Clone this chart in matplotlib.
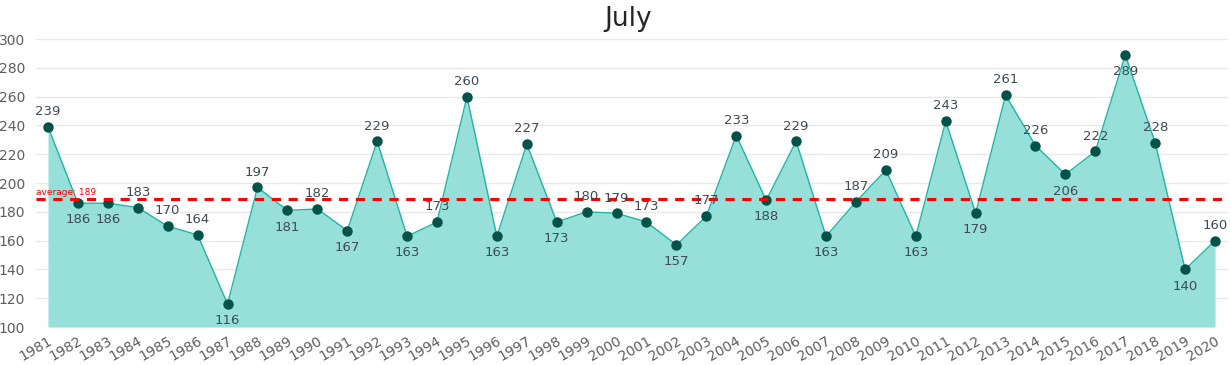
import matplotlib.pyplot as plt

years = list(range(1981, 2021))
values = [239, 186, 186, 183, 170, 164, 116, 197, 181, 182,
          167, 229, 163, 173, 260, 163, 227, 173, 180, 179,
          173, 157, 177, 233, 188, 229, 163, 187, 209, 163,
          243, 179, 261, 226, 206, 222, 289, 228, 140, 160]
# where each data label sits: 'a' above the point, 'b' below
label_side = list("abbaaababa" + "babaababaa" + "abaababaab" + "abaababab" + "a")
average = 189
y_ticks = list(range(100, 301, 20))

fig = plt.figure(figsize=(12.3, 3.65), dpi=100)
ax = fig.add_axes([0.0293, 0.104, 0.969, 0.789])

fill_color = "#97E0D9"
line_color = "#1FB5A3"
marker_color = "#01534A"
text_gray = "#605E5C"

ax.fill_between(years, values, 100, color=fill_color, linewidth=0, zorder=1)
ax.plot(years, values, color=line_color, linewidth=1, zorder=2)
ax.plot(years, values, "o", color=marker_color, markersize=6.5, zorder=3)

# data labels
for x, v, side in zip(years, values, label_side):
    dy = 11 if side == "a" else -12
    ax.annotate(str(v), (x, v), xytext=(0, dy), textcoords="offset points",
                ha="center", va="center", fontsize=9.5, color="#3E4A54", zorder=4)

# average line
ax.axhline(average, color="#FF0000", linestyle=(0, (3, 2.5)), linewidth=2.2, zorder=3)
ax.text(1981 - 0.4, average + 1.5, f"average: {average}", color="#FF0000",
        fontsize=6.5, ha="left", va="bottom", zorder=4)

ax.set_xlim(1981 - 0.4, 2020 + 0.43)
ax.set_ylim(100, 300)
ax.set_yticks(y_ticks)
ax.set_xticks(years)
ax.set_xticklabels([str(y) for y in years], rotation=30, ha="right",
                   rotation_mode="anchor", fontsize=10, color=text_gray)
ax.tick_params(axis="y", labelsize=10, labelcolor=text_gray, length=0, pad=8)
ax.tick_params(axis="x", length=0, pad=5)
ax.grid(axis="y", color="#E9E9E9", linewidth=1, zorder=0)
ax.set_axisbelow(True)
for s in ax.spines.values():
    s.set_visible(False)

fig.text(0.511, 0.948, "July", ha="center", va="center", fontsize=19, color="#252423")

fig.savefig("out.png", dpi=100)
